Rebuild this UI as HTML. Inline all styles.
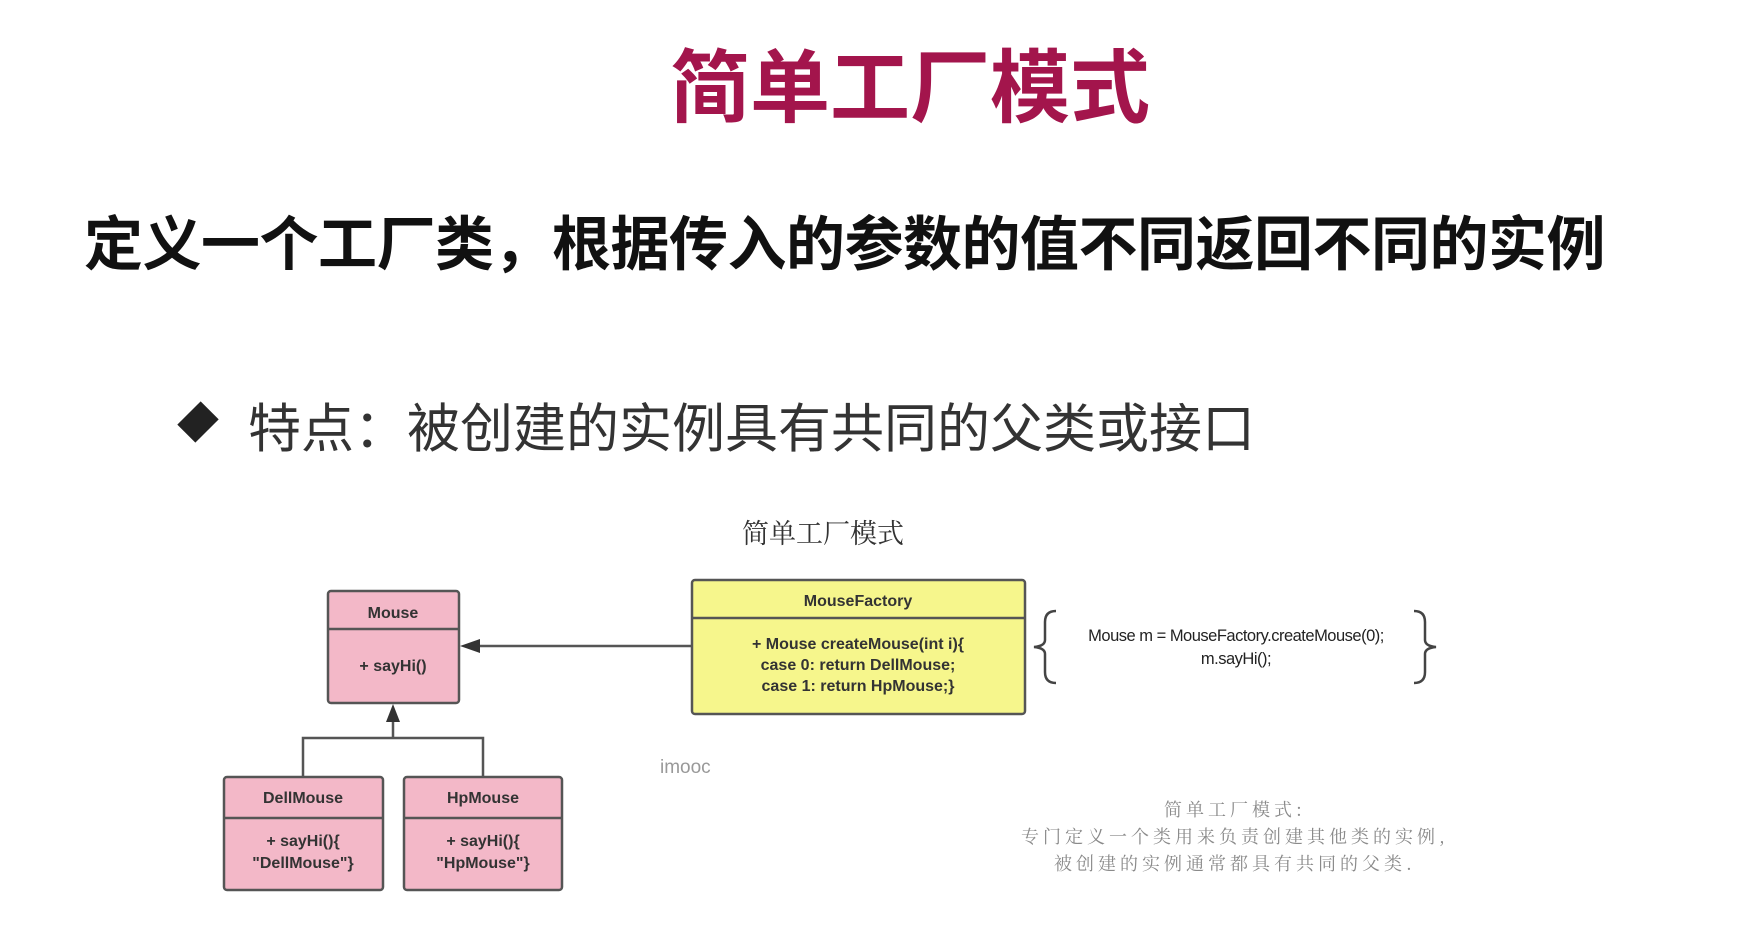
<!DOCTYPE html>
<html><head><meta charset="utf-8"><style>
body{margin:0;width:1763px;height:947px;background:#fff;position:relative;overflow:hidden;font-family:"Liberation Sans","Noto Sans CJK SC",sans-serif}
.a{position:absolute;white-space:nowrap}
</style></head><body>
<div class="a" style="left:0;width:1820px;text-align:center;top:44px;font-size:80px;font-weight:bold;color:#a3154c;line-height:90px">简单工厂模式</div>
<div class="a" style="left:84px;top:207px;font-size:59px;font-weight:bold;color:#111;line-height:76px;letter-spacing:-0.5px">定义一个工厂类，根据传入的参数的值不同返回不同的实例</div>
<div class="a" style="left:183px;top:407px;width:30px;height:30px;background:#222;transform:rotate(45deg) scale(0.85,1.1)"></div>
<div class="a" style="left:248px;top:397px;font-size:53px;color:#333;line-height:66px">特点：被创建的实例具有共同的父类或接口</div>
<div class="a" style="left:742px;top:512px;font-size:27px;color:#333;font-family:'Noto Serif CJK SC',serif">简单工厂模式</div>
<div class="a" style="left:660px;top:757px;font-size:19px;color:#999">imooc</div>
<div class="a" style="left:940px;width:590px;text-align:center;top:796px;font-size:18px;color:#8a8a8a;line-height:27px;font-family:'Noto Serif CJK SC',serif;letter-spacing:4px">简单工厂模式:<br>专门定义一个类用来负责创建其他类的实例,<br>被创建的实例通常都具有共同的父类.</div>
<svg class="a" style="left:0;top:0" width="1763" height="947" font-family="Liberation Sans, sans-serif" font-weight="bold" font-size="16" text-anchor="middle" fill="#333">
<g stroke="#555" stroke-width="2.5">
<rect x="328" y="591" width="131" height="112" rx="3" fill="#f3b8c8"/>
<line x1="328" y1="629" x2="459" y2="629"/>
<rect x="224" y="777" width="159" height="113" rx="3" fill="#f3b8c8"/>
<line x1="224" y1="818" x2="383" y2="818"/>
<rect x="404" y="777" width="158" height="113" rx="3" fill="#f3b8c8"/>
<line x1="404" y1="818" x2="562" y2="818"/>
<rect x="692" y="580" width="333" height="134" rx="3" fill="#f6f68c"/>
<line x1="692" y1="618" x2="1025" y2="618"/>
<line x1="691" y1="646" x2="475" y2="646"/>
<polyline fill="none" points="303,777 303,738 483,738 483,777"/>
<line x1="393" y1="738" x2="393" y2="718"/>
</g>
<polygon points="460,646 480,639 480,653" fill="#333"/>
<polygon points="393,704 386,722 400,722" fill="#333"/>
<text x="393" y="618">Mouse</text>
<text x="393" y="671">+ sayHi()</text>
<text x="303" y="803">DellMouse</text>
<text x="303" y="846">+ sayHi(){</text>
<text x="303" y="868">"DellMouse"}</text>
<text x="483" y="803">HpMouse</text>
<text x="483" y="846">+ sayHi(){</text>
<text x="483" y="868">"HpMouse"}</text>
<text x="858" y="606">MouseFactory</text>
<text x="858" y="649">+ Mouse createMouse(int i){</text>
<text x="858" y="670">case 0: return DellMouse;</text>
<text x="858" y="691">case 1: return HpMouse;}</text>
<g font-weight="normal" font-size="16.5" fill="#222" letter-spacing="-0.5">
<text x="1236" y="641">Mouse m = MouseFactory.createMouse(0);</text>
<text x="1236" y="664">m.sayHi();</text>
</g>
<g fill="none" stroke="#444" stroke-width="2.5">
<path d="M1056,611 Q1045,611 1045,622 L1045,640 Q1045,646 1034,647 Q1045,648 1045,654 L1045,672 Q1045,683 1056,683"/>
<path d="M1414,611 Q1425,611 1425,622 L1425,640 Q1425,646 1436,647 Q1425,648 1425,654 L1425,672 Q1425,683 1414,683"/>
</g>
</svg>
</body></html>
